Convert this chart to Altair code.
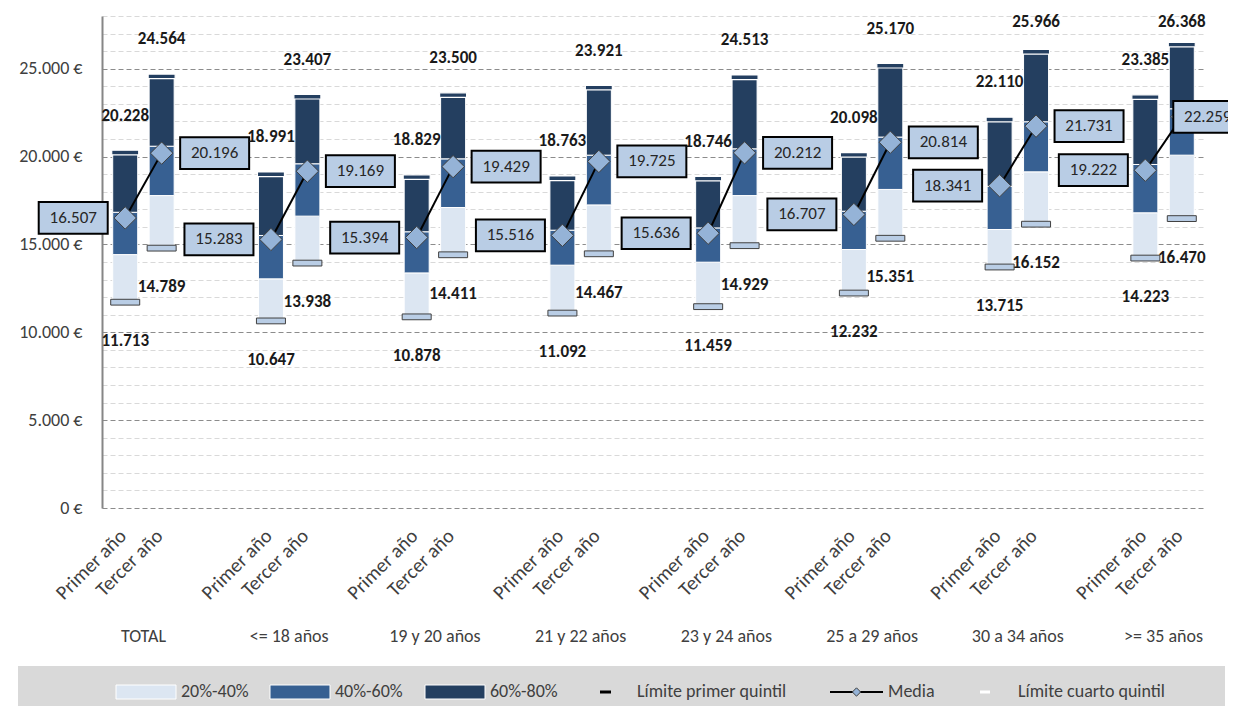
import altair as alt
import pandas as pd

# ---------------- data ----------------
groups = ["TOTAL", "<= 18 años", "19 y 20 años", "21 y 22 años",
          "23 y 24 años", "25 a 29 años", "30 a 34 años", ">= 35 años"]
years = ["Primer año", "Tercer año"]
segments = ["20%-40%", "40%-60%", "60%-80%"]

p20_primer = [11713, 10647, 10878, 11092, 11459, 12232, 13715, 14223]
p40_primer = [14420, 13040, 13380, 13820, 13990, 14710, 15850, 16800]
p60_primer = [16830, 15510, 15720, 15810, 15940, 16890, 18310, 19550]
p80_primer = [20228, 18991, 18829, 18763, 18746, 20098, 22110, 23385]
mean_primer = [16507, 15283, 15394, 15516, 15636, 16707, 18341, 19222]

p20_tercer = [14789, 13938, 14411, 14467, 14929, 15351, 16152, 16470]
p40_tercer = [17780, 16610, 17100, 17250, 17780, 18130, 19130, 20080]
p60_tercer = [20590, 19590, 19870, 20080, 20440, 21110, 21980, 22720]
p80_tercer = [24564, 23407, 23500, 23921, 24513, 25170, 25966, 26368]
mean_tercer = [20196, 19169, 19429, 19725, 20212, 20814, 21731, 22259]

y_ticks = list(range(0, 28001, 1000))

# ---------------- styling ----------------
FONT = "Carlito, Lato, sans-serif"
W, H = 1103, 492
YMAX = 28000
PX = YMAX / H  # data units per pixel (for label clamping)
C_LIGHT, C_MED, C_DARK = "#dce6f2", "#376092", "#243f60"
TXT = "#404040"


def fmt(v):
    return f"{v:,}".replace(",", ".")


seg_rows, pt_rows = [], []
for g, name in enumerate(groups):
    for k, yr in enumerate(years):
        if k == 0:
            q = [p20_primer[g], p40_primer[g], p60_primer[g], p80_primer[g]]
            m = mean_primer[g]
        else:
            q = [p20_tercer[g], p40_tercer[g], p60_tercer[g], p80_tercer[g]]
            m = mean_tercer[g]
        slot = 4 * g + 0.5 + k
        for s, seg in enumerate(segments):
            seg_rows.append(dict(slot=slot, seg=seg, lo=q[s], hi=q[s + 1]))
        pt_rows.append(dict(group=name, year=yr, slot=slot, p20=q[0], p80=q[3],
                            top_lbl=min(q[3] + 37 * PX, YMAX - 6 * PX),
                            mean=m, p20_t=fmt(q[0]), p80_t=fmt(q[3]),
                            mean_t=fmt(m), last=(g == len(groups) - 1)))
seg_df = pd.DataFrame(seg_rows)
pt_df = pd.DataFrame(pt_rows)
grp_df = pd.DataFrame({"group": groups, "slot": [4 * g + 1 for g in range(len(groups))]})
one = pd.DataFrame({"a": [0]})

xs = alt.Scale(domain=[0, 30], nice=False, zero=False)
ys = alt.Scale(domain=[0, YMAX], nice=False)
X = alt.X("slot:Q", scale=xs, axis=None)

yaxis = alt.Axis(
    values=y_ticks,
    labelExpr="datum.value % 5000 === 0 ? replace(format(datum.value, ','), ',', '.') + ' €' : ''",
    grid=True,
    gridColor={"condition": {"test": "datum.value % 5000 === 0", "value": "#8c8c8c"},
               "value": "#d9d9d9"},
    gridDash=[5, 3], gridWidth=1,
    ticks=False, domain=True, domainColor="#868686", domainWidth=2,
    labelFont=FONT, labelFontSize=18, labelColor=TXT, labelPadding=20,
    title="",
)


def Y(field):
    return alt.Y(field, type="quantitative", scale=ys, axis=yaxis)


bars = alt.Chart(seg_df).mark_bar(size=25, stroke="white", strokeWidth=1).encode(
    x=X, y=Y("lo"), y2="hi:Q",
    color=alt.Color("seg:N", scale=alt.Scale(domain=segments, range=[C_LIGHT, C_MED, C_DARK]),
                    legend=None),
)

low_mark = alt.Chart(pt_df).mark_point(
    shape="M-1,-0.2H1V0.2H-1Z", size=29 * 29, filled=True, fill="#b9cde5",
    stroke="#404040", strokeWidth=1, opacity=1,
).encode(x=X, y=Y("p20"))

top_mark = alt.Chart(pt_df).mark_point(
    shape="M-1,-0.17H1V0.17H-1Z", size=27 * 27, filled=True, fill=C_DARK,
    stroke="white", strokeWidth=1.2, opacity=1,
).encode(x=X, y=Y("p80"))

mean_line = alt.Chart(pt_df).mark_line(color="black", strokeWidth=2).encode(
    x=X, y=Y("mean"), detail="group:N")

diamonds = alt.Chart(pt_df).mark_point(
    shape="diamond", size=500, filled=True, fill="#95b3d7", stroke="#404040",
    strokeWidth=1, opacity=1,
).encode(x=X, y=Y("mean"))


def mean_box(data, off):
    box = alt.Chart(data).mark_point(
        shape="M-1,-0.46H1V0.46H-1Z", size=69 * 69, filled=True, fill="#b9cde5",
        stroke="black", strokeWidth=2, opacity=1, xOffset=off,
    ).encode(x=X, y=Y("mean"))
    txt = alt.Chart(data).mark_text(
        font=FONT, fontSize=17, color="#262626", dx=off, baseline="middle",
    ).encode(x=X, y=Y("mean"), text="mean_t:N")
    return box + txt


box_p = mean_box(pt_df[pt_df.year == years[0]], -52)
box_t = mean_box(pt_df[(pt_df.year == years[1]) & (~pt_df["last"])], 53)
box_tl = mean_box(pt_df[(pt_df.year == years[1]) & (pt_df["last"])], 26)

lbl_low = alt.Chart(pt_df).mark_text(
    font=FONT, fontSize=17, fontWeight="bold", color="#1a1a1a", dy=39, baseline="middle",
).encode(x=X, y=Y("p20"), text="p20_t:N")

lbl_top = alt.Chart(pt_df).mark_text(
    font=FONT, fontSize=17, fontWeight="bold", color="#1a1a1a", baseline="middle",
).encode(x=X, y=Y("top_lbl"), text="p80_t:N")

year_lbl = alt.Chart(pt_df).mark_text(
    font=FONT, fontSize=20, color=TXT, angle=315, align="right", baseline="middle",
    xOffset=-2,
).encode(x=X, y=alt.value(517), text="year:N")

group_lbl = alt.Chart(grp_df).mark_text(
    font=FONT, fontSize=18, color=TXT, baseline="middle",
).encode(x=X, y=alt.value(621), text="group:N")

# ---------------- legend (drawn) ----------------
LY = 676
leg = [alt.Chart(one).mark_rect(color="#d9d9d9").encode(
    x=alt.value(-84), x2=alt.value(1123), y=alt.value(650), y2=alt.value(705))]
for (x0, x1, col, lab) in [(14, 74, C_LIGHT, segments[0]), (168, 228, C_MED, segments[1]),
                           (323, 383, C_DARK, segments[2])]:
    leg.append(alt.Chart(one).mark_rect(color=col, stroke="white", strokeWidth=1).encode(
        x=alt.value(x0), x2=alt.value(x1), y=alt.value(LY - 7), y2=alt.value(LY + 7)))
    leg.append(alt.Chart(one).mark_text(font=FONT, fontSize=18, color=TXT, align="left",
                                        baseline="middle", text=lab).encode(
        x=alt.value(x1 + 5), y=alt.value(LY)))
leg.append(alt.Chart(one).mark_rect(color="black").encode(
    x=alt.value(498), x2=alt.value(509), y=alt.value(LY - 1.5), y2=alt.value(LY + 1.5)))
leg.append(alt.Chart(one).mark_text(font=FONT, fontSize=18, color=TXT, align="left",
                                    baseline="middle", text="Límite primer quintil").encode(
    x=alt.value(535), y=alt.value(LY)))
leg.append(alt.Chart(one).mark_rule(color="black", strokeWidth=2).encode(
    x=alt.value(728), x2=alt.value(781), y=alt.value(LY)))
leg.append(alt.Chart(one).mark_point(shape="diamond", size=70, filled=True, fill="#95b3d7",
                                     stroke="#404040", strokeWidth=1, opacity=1).encode(
    x=alt.value(754.5), y=alt.value(LY)))
leg.append(alt.Chart(one).mark_text(font=FONT, fontSize=18, color=TXT, align="left",
                                    baseline="middle", text="Media").encode(
    x=alt.value(786), y=alt.value(LY)))
leg.append(alt.Chart(one).mark_rect(color="white").encode(
    x=alt.value(878), x2=alt.value(888), y=alt.value(LY - 1.5), y2=alt.value(LY + 1.5)))
leg.append(alt.Chart(one).mark_text(font=FONT, fontSize=18, color=TXT, align="left",
                                    baseline="middle", text="Límite cuarto quintil").encode(
    x=alt.value(916), y=alt.value(LY)))

chart = alt.layer(
    bars, *leg, low_mark, top_mark, mean_line, diamonds, box_p, box_t, box_tl,
    lbl_low, lbl_top, year_lbl, group_lbl,
).properties(
    width=W, height=H,
    autosize=alt.AutoSizeParams(type="none"),
    padding={"left": 94, "top": 8, "right": 23, "bottom": 198},
).configure_view(stroke="transparent")

chart.save("out.html", embed_options={"renderer": "svg", "actions": False})
